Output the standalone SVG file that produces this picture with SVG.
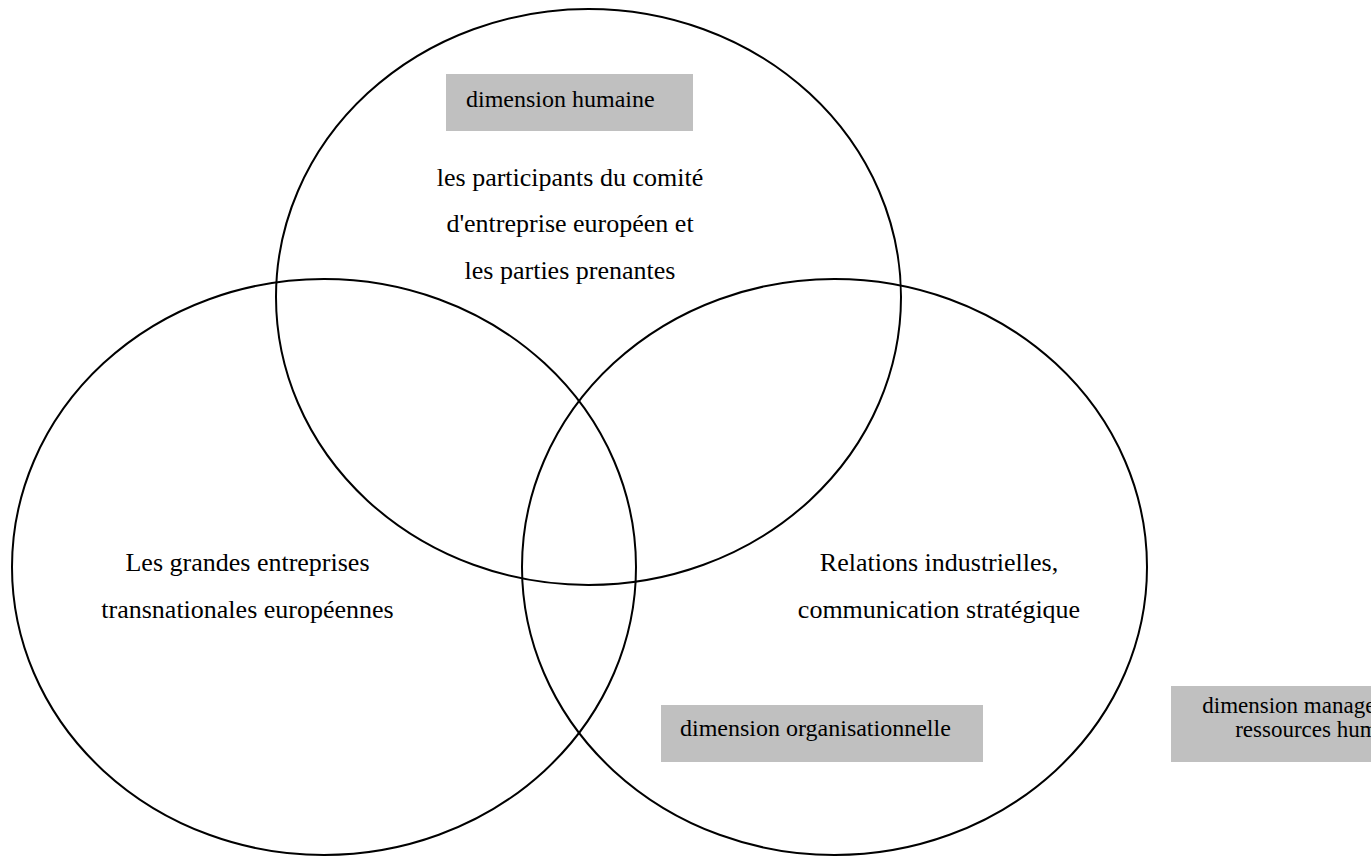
<svg xmlns="http://www.w3.org/2000/svg" width="1371" height="857" viewBox="0 0 1371 857">
<style>
.ring{fill:none;stroke:#000;stroke-width:2}
.lbl{font-family:"Liberation Serif","Times New Roman",serif;font-size:26px;fill:#000;text-anchor:middle}
.tag{fill:#c0c0c0}
.tagtxt{font-family:"Liberation Serif","Times New Roman",serif;font-size:24px;fill:#000}
.tagsm{font-family:"Liberation Serif","Times New Roman",serif;font-size:23px;fill:#000;text-anchor:middle}
</style>
<rect width="1371" height="857" fill="#fff"/>
<g id="connectors"></g>
<g id="circle-top">
<ellipse class="ring" cx="588.5" cy="297" rx="312.5" ry="288"/>
<text class="lbl" x="570" y="185.5">les participants du comité</text>
<text class="lbl" x="570" y="232">d'entreprise européen et</text>
<text class="lbl" x="570" y="279">les parties prenantes</text>
</g>
<g id="circle-left">
<ellipse class="ring" cx="324" cy="567" rx="312" ry="288"/>
<text class="lbl" x="247.5" y="571">Les grandes entreprises</text>
<text class="lbl" x="247.5" y="618">transnationales européennes</text>
</g>
<g id="circle-right">
<ellipse class="ring" cx="834.5" cy="567" rx="312.5" ry="288"/>
<text class="lbl" x="939" y="571">Relations industrielles,</text>
<text class="lbl" x="939" y="618">communication stratégique</text>
</g>
<g id="tag-humaine">
<rect class="tag" x="446" y="74" width="247" height="57"/>
<text class="tagtxt" x="466" y="107">dimension humaine</text>
</g>
<g id="tag-organisationnelle">
<rect class="tag" x="661" y="705" width="322" height="57"/>
<text class="tagtxt" x="680" y="736">dimension organisationnelle</text>
</g>
<g id="tag-management">
<rect class="tag" x="1171" y="686" width="330" height="76"/>
<text class="tagsm" x="1330" y="713">dimension management des</text>
<text class="tagsm" x="1330" y="737">ressources humaines</text>
</g>
</svg>
